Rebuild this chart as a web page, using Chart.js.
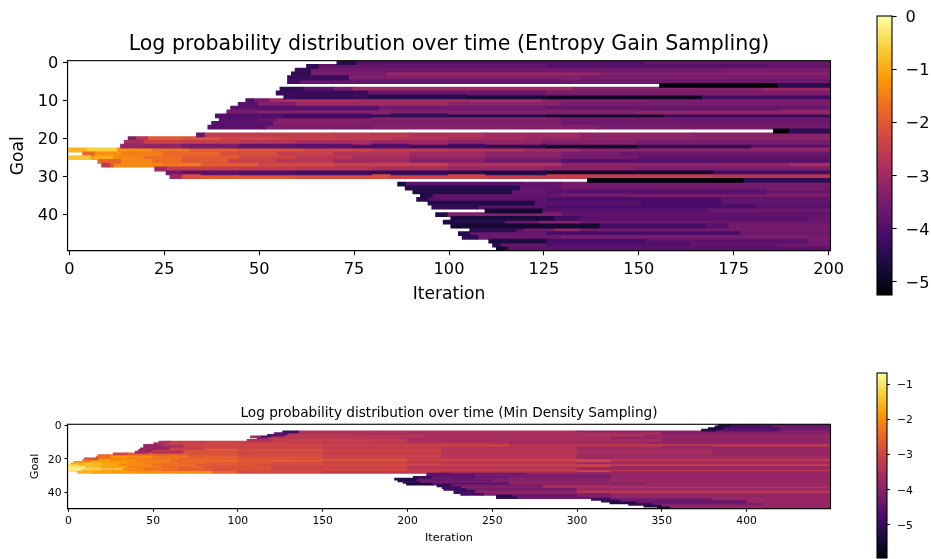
<!DOCTYPE html>
<html>
<head>
<meta charset="utf-8">
<title>Log probability distribution over time</title>
<script src="https://cdn.jsdelivr.net/npm/chart.js@4"></script>
<style>
  html, body { margin: 0; background: #fff; }
  canvas { position: absolute; }
</style>
</head>
<body>
<canvas id="entropy_chart"></canvas>
<canvas id="entropy_bar"></canvas>
<canvas id="density_chart"></canvas>
<canvas id="density_bar"></canvas>
<script>
// goals on the y axis
const goals = [];
for (let i = 0; i < 50; i++) goals.push(i);

// entropy gain chart: each row is cut at these iterations, one log prob per piece
const entropyGoalTicks = [0, 10, 20, 30, 40];
const entropyIterTicks = [0, 25, 50, 75, 100, 125, 150, 175, 200];
const entropyBarTicks = [0, -1, -2, -3, -4, -5];
const entropyRange = [-5.25, 0];
const entropyEdges = [
  [71,76,152,201], [63,66,126,184,201], [60,64,173,201], [59,64,84,140,201], [58,74,135,201],
  [58,61,130,201], [156,187,201], [56,62,70,75,133,183,201], [55,79,126,201], [57,79,105,126,167,201],
  [47,49,53,57,75,125,153,201], [45,50,60,100,130,201], [43,82,126,188,201], [42,50,85,150,201], [39,57,80,100,126,157,201],
  [40,50,55,130,160,201], [38,54,77,130,201], [37,52,80,140,201], [186,190,201],
  [34,36,50,70,90,110,135,165,201],
  [16,18,21,30,40,55,70,85,100,120,135,201],
  [15,20,30,45,60,80,100,125,150,201],
  [14,20,30,45,60,75,90,110,126,150,180,201],
  [0,5,13,22,32,45,62,80,100,120,135,201],
  [4,7,14,25,40,55,70,90,110,130,145,201],
  [0,6,12,20,30,45,60,75,90,110,130,150,201],
  [8,14,22,30,42,55,70,90,110,130,201],
  [9,11,12,25,35,50,70,100,130,190,201],
  [23,26,40,60,80,100,125,150,201],
  [26,30,45,60,80,100,126,170,201],
  [27,30,35,45,60,85,110,170,201],
  [137,178,201], [87,89,120,130,201], [89,119,130,201], [91,117,126,184,201],
  [93,96,130,148,201], [92,95,126,172,201], [95,123,151,172,201], [96,108,126,181,201], [110,125,169,201],
  [97,100,130,201], [101,128,135,195,201], [99,115,124,135,201], [101,140,168,174,201], [106,118,120,128,135,201],
  [103,106,126,177,201], [104,108,130,201], [111,126,152,195,201], [112,114,126,164,188,201], [113,116,201]
];
const entropyLogp = [
  [-4.5,-3.95,-3.7], [-4.4,-3.75,-3.95,-3.8], [-4.3,-3.6,-3.5], [-4.4,-3.5,-3.05,-3.3], [-4.3,-3.4,-3.5],
  [-4.2,-3.75,-3.65], [-5.2,-4.5], [-4.4,-3.9,-3.5,-3.0,-3.3,-3.05], [-4.3,-3.7,-3.45], [-4.3,-4.5,-4.7,-4.95,-4.2],
  [-4.0,-3.5,-3.0,-2.8,-2.9,-3.3,-3.45], [-3.9,-3.4,-3.0,-3.25,-3.5], [-3.9,-3.55,-3.75,-3.7], [-3.5,-3.3,-3.4,-3.2], [-4.0,-4.2,-4.4,-4.6,-4.85,-4.3],
  [-3.9,-3.7,-3.35,-3.6,-3.7], [-3.9,-3.3,-3.45,-3.65], [-3.9,-3.5,-3.35,-3.55], [-5.2,-4.4],
  [-3.7,-2.5,-2.5,-2.6,-2.8,-3.0,-3.2,-3.3],
  [-3.4,-2.7,-2.0,-2.1,-2.3,-2.4,-2.5,-2.7,-2.9,-3.1,-3.2],
  [-2.9,-2.4,-2.5,-2.7,-2.9,-3.05,-3.2,-3.35,-3.5],
  [-3.1,-3.2,-3.5,-3.8,-3.9,-4.05,-4.2,-4.4,-4.8,-4.3,-3.95],
  [-0.9,-0.6,-1.3,-1.6,-1.9,-2.1,-2.3,-2.5,-2.7,-2.95,-3.2],
  [-1.8,-1.3,-1.5,-1.8,-2.15,-2.45,-2.75,-3.0,-3.25,-3.5,-3.7],
  [-0.7,-1.0,-1.4,-1.7,-2.0,-2.35,-2.65,-2.9,-3.15,-3.4,-3.6,-3.8],
  [-1.8,-1.4,-1.7,-2.0,-2.4,-2.7,-3.0,-3.35,-3.65,-3.95],
  [-2.6,-2.1,-1.4,-1.6,-1.95,-2.25,-2.45,-2.8,-3.2,-2.9],
  [-3.0,-2.5,-2.55,-2.7,-2.9,-3.1,-3.3,-3.5],
  [-3.6,-3.85,-4.0,-4.2,-4.35,-4.55,-4.85,-4.2],
  [-3.0,-2.2,-1.95,-2.05,-2.2,-2.35,-2.5,-2.7],
  [-5.2,-4.4], [-4.7,-3.9,-3.75,-3.55], [-4.5,-3.8,-3.55], [-4.6,-3.7,-3.9,-3.7],
  [-4.6,-3.8,-3.55,-3.45], [-4.5,-3.85,-4.1,-3.8], [-4.6,-3.9,-4.1,-3.8], [-4.4,-3.9,-4.1,-3.9], [-4.8,-3.85,-3.65],
  [-4.6,-3.4,-3.8], [-4.7,-4.2,-3.85,-3.7], [-4.6,-3.7,-3.3,-3.7], [-4.8,-4.2,-3.9,-3.55], [-4.5,-4.0,-3.55,-3.15,-3.55],
  [-4.5,-3.7,-4.1,-3.65], [-4.4,-3.65,-3.5], [-4.7,-4.1,-3.85,-3.55], [-4.5,-3.7,-4.0,-3.75,-3.6], [-4.8,-3.85]
];

// min density chart
const densityGoalTicks = [0, 20, 40];
const densityIterTicks = [0, 50, 100, 150, 200, 250, 300, 350, 400];
const densityBarTicks = [-1, -2, -3, -4, -5];
const densityRange = [-5.94, -0.68];
const densityEdges = [
  [384,390,408,450], [382,388,415,450], [378,386,420,450], [374,382,420,450], [127,136,180,300,450],
  [122,130,200,350,450], [118,128,170,340,450], [108,114,120,210,450], [112,118,180,320,450], [106,120,200,350,450],
  [54,60,80,110,150,200,260,340,450],
  [51,58,75,100,130,180,250,340,450],
  [45,55,68,90,150,260,350,450],
  [45,55,68,100,150,220,300,380,450],
  [43,60,80,110,150,220,300,380,450],
  [42,50,70,100,150,220,300,380,450],
  [40,48,68,100,150,220,300,380,450],
  [27,35,50,70,100,150,220,300,380,450],
  [18,25,35,50,70,100,150,220,300,450],
  [17,25,35,50,70,100,150,220,300,450],
  [10,18,30,45,65,90,130,200,300,450],
  [9,14,25,40,60,100,150,200,320,450],
  [4,10,20,35,55,80,120,200,300,450],
  [2,10,20,30,45,65,100,150,220,300,450],
  [0,6,15,30,50,75,110,200,320,450],
  [0,10,20,35,55,80,120,200,300,450],
  [33,45,65,85,120,200,300,450],
  [1,8,20,35,55,80,120,200,320,450],
  [6,15,25,40,85,100,150,220,300,450],
  [212,225,270,320,450],
  [212,240,320,450], [204,215,260,320,450], [193,206,240,320,450], [195,205,250,320,450], [198,208,260,450],
  [200,215,260,340,450], [218,226,280,450], [221,232,280,320,450], [222,235,300,450], [228,240,300,450],
  [228,240,300,450], [232,245,320,450], [253,262,300,450], [253,265,320,450], [309,320,380,450],
  [315,325,400,450], [320,335,400,450], [331,345,410,450], [340,350,450], [348,355,450]
];
const densityLogp = [
  [-5.4,-4.9,-4.4], [-5.3,-4.8,-4.35], [-5.4,-4.7,-4.3], [-5.3,-4.6,-4.2], [-5.0,-3.4,-3.5,-3.95],
  [-4.6,-3.5,-3.6,-4.0], [-4.6,-3.3,-3.5,-3.95], [-3.6,-5.0,-3.3,-3.75], [-4.0,-3.3,-3.5,-3.85], [-3.5,-3.2,-3.6,-3.9],
  [-3.5,-3.15,-3.1,-3.15,-3.25,-3.4,-3.65,-3.9],
  [-3.5,-3.05,-3.0,-3.1,-3.2,-3.4,-3.65,-3.85],
  [-3.7,-3.3,-3.0,-3.0,-3.1,-3.3,-3.35],
  [-3.9,-3.6,-3.0,-3.05,-3.2,-3.45,-3.7,-3.85],
  [-3.8,-3.2,-3.0,-3.05,-3.2,-3.45,-3.7,-3.85],
  [-3.8,-3.0,-2.65,-2.8,-3.0,-3.3,-3.6,-3.8],
  [-3.7,-3.5,-2.85,-3.0,-3.15,-3.35,-3.6,-3.8],
  [-3.0,-2.6,-2.6,-2.8,-2.95,-3.15,-3.4,-3.65,-3.85],
  [-2.5,-2.1,-2.2,-2.4,-2.65,-2.85,-3.1,-3.35,-3.7],
  [-2.4,-1.9,-2.05,-2.3,-2.6,-2.85,-3.1,-3.35,-3.7],
  [-2.9,-2.1,-2.15,-2.35,-2.6,-2.8,-3.0,-3.3,-3.65],
  [-2.3,-1.8,-1.95,-2.2,-2.45,-2.65,-2.75,-3.0,-3.2],
  [-2.0,-1.7,-1.85,-2.15,-2.45,-2.75,-3.0,-3.3,-3.65],
  [-1.6,-1.55,-1.75,-2.0,-2.3,-2.6,-2.85,-3.1,-3.35,-3.65],
  [-1.2,-1.45,-1.7,-2.05,-2.4,-2.7,-2.9,-3.05,-3.2],
  [-1.0,-1.45,-1.75,-2.15,-2.5,-2.8,-3.05,-3.35,-3.7],
  [-2.05,-2.35,-2.65,-2.85,-3.05,-3.35,-3.7],
  [-1.0,-1.55,-1.8,-2.15,-2.5,-2.75,-2.9,-3.0,-3.15],
  [-1.6,-1.75,-1.85,-2.0,-2.5,-2.95,-3.25,-3.45,-3.7],
  [-4.6,-4.3,-3.95,-3.85],
  [-4.5,-4.2,-3.85], [-4.9,-4.3,-4.1,-3.8], [-5.3,-4.4,-4.0,-3.8], [-5.3,-4.4,-4.05,-3.75], [-5.0,-4.2,-3.8],
  [-5.4,-4.6,-4.0,-3.75], [-5.2,-4.2,-3.7], [-4.9,-4.0,-3.5,-3.2], [-4.9,-4.2,-3.75], [-5.0,-4.1,-3.6],
  [-4.8,-3.9,-3.3], [-4.8,-4.1,-3.7], [-5.3,-4.5,-3.9], [-5.1,-4.3,-3.8], [-5.0,-4.2,-3.75],
  [-5.1,-4.3,-3.8], [-5.3,-4.4,-3.8], [-5.1,-4.2,-3.7], [-5.2,-3.9], [-5.4,-3.8]
];

const inferno = ['#000004','#1b0c41','#4a0c6b','#781c6d','#a52c60','#cf4446','#ed6925','#fb9b06','#f7d13d','#fcffa4'];

function hex(c) {
    return [1, 3, 5].map(i => parseInt(c.substr(i, 2), 16));
}

function colorFor(v, range) {
    let t = (v - range[0]) / (range[1] - range[0]);
    t = Math.min(1, Math.max(0, t)) * (inferno.length - 1);
    const i = Math.min(inferno.length - 2, Math.floor(t));
    const a = hex(inferno[i]), b = hex(inferno[i + 1]), f = t - i;
    return 'rgb(' + a.map((x, k) => Math.round(x + (b[k] - x) * f)).join(',') + ')';
}

const font = 'DejaVu Sans';
Chart.defaults.font.family = font;
Chart.defaults.color = '#000';

// black box round the plot area
const framePlugin = {
    id: 'frame',
    afterDraw(chart) {
        const a = chart.chartArea, c = chart.ctx;
        c.save();
        c.strokeStyle = '#000';
        c.lineWidth = 1.1;
        c.strokeRect(a.left, a.top, a.right - a.left, a.bottom - a.top);
        c.restore();
    }
};

function place(id, box) {
    const el = document.getElementById(id);
    el.style.left = box.x + 'px';
    el.style.top = box.y + 'px';
    el.style.width = box.w + 'px';
    el.style.height = box.h + 'px';
    el.width = box.w;
    el.height = box.h;
    return el;
}

function heatmap(id, o) {
    const el = place(id, o.box);
    const pieces = Math.max(...o.logp.map(r => r.length));
    const datasets = [];
    for (let k = 0; k < pieces; k++) {
        datasets.push({
            data: goals.map(g => o.logp[g][k] === undefined ? null : [o.edges[g][k] - 0.5, o.edges[g][k + 1] - 0.5]),
            backgroundColor: goals.map(g => o.logp[g][k] === undefined ? 'rgba(0,0,0,0)' : colorFor(o.logp[g][k], o.range)),
            grouped: false,
            barPercentage: 1,
            categoryPercentage: 1,
            inflateAmount: 0.5,
            borderWidth: 0
        });
    }
    return new Chart(el, {
        type: 'bar',
        data: { labels: goals, datasets: datasets },
        plugins: [framePlugin],
        options: {
            indexAxis: 'y',
            responsive: false,
            animation: false,
            devicePixelRatio: 1,
            layout: { padding: { left: 0, top: 0, right: o.box.w - o.plot.right, bottom: 0 } },
            plugins: {
                legend: { display: false },
                tooltip: { enabled: false },
                title: {
                    display: true,
                    fullSize: false,
                    text: o.title,
                    color: '#000',
                    font: { family: font, size: o.titleSize, weight: 'normal', lineHeight: 1.2 },
                    padding: o.titlePad
                }
            },
            scales: {
                x: {
                    type: 'linear',
                    min: -0.5,
                    max: o.xMax - 0.5,
                    afterBuildTicks: s => { s.ticks = o.xTicks.map(v => ({ value: v })); },
                    afterFit: s => { s.height = o.box.h - (o.plot.bottom - o.box.y); },
                    grid: { drawOnChartArea: false, tickColor: '#000', tickLength: o.tickLen, tickWidth: 1.1 },
                    border: { color: '#000', width: 1.1 },
                    ticks: { autoSkip: false, maxRotation: 0, padding: o.tickPad, font: { size: o.tickSize }, callback: v => String(v) },
                    title: { display: true, text: 'Iteration', color: '#000', font: { size: o.labelSize, lineHeight: 1.2 }, padding: 0 }
                },
                y: {
                    afterBuildTicks: s => { s.ticks = s.ticks.filter(t => o.yTicks.includes(t.value)); },
                    afterFit: s => { s.width = o.plot.left - o.box.x; },
                    grid: { drawOnChartArea: false, offset: false, tickColor: '#000', tickLength: o.tickLen, tickWidth: 1.1 },
                    border: { color: '#000', width: 1.1 },
                    ticks: { autoSkip: false, padding: o.tickPad, labelOffset: o.labelShift, font: { size: o.tickSize } },
                    title: { display: true, text: 'Goal', color: '#000', font: { size: o.labelSize, lineHeight: 1.2 }, padding: { top: o.goalPad, bottom: 0 } }
                }
            }
        }
    });
}

function colorbar(id, o) {
    const el = place(id, o.box);
    return new Chart(el, {
        type: 'bar',
        data: {
            labels: ['logp'],
            datasets: [{
                data: [o.range],
                barPercentage: 1,
                categoryPercentage: 1,
                borderWidth: 0,
                backgroundColor: ctx => {
                    const a = ctx.chart.chartArea;
                    if (!a) return '#000';
                    const g = ctx.chart.ctx.createLinearGradient(0, a.bottom, 0, a.top);
                    inferno.forEach((c, i) => g.addColorStop(i / (inferno.length - 1), c));
                    return g;
                }
            }]
        },
        plugins: [framePlugin],
        options: {
            responsive: false,
            animation: false,
            devicePixelRatio: 1,
            layout: { padding: { left: o.plot.left - o.box.x, top: o.plot.top - o.box.y, bottom: o.box.y + o.box.h - o.plot.bottom, right: 0 } },
            plugins: { legend: { display: false }, tooltip: { enabled: false } },
            scales: {
                x: { display: false },
                y: {
                    position: 'right',
                    min: o.range[0],
                    max: o.range[1],
                    afterBuildTicks: s => { s.ticks = o.ticks.map(v => ({ value: v })); },
                    afterFit: s => {
                        s.width = o.box.x + o.box.w - o.plot.right;
                        s.paddingTop = 0;
                        s.paddingBottom = 0;
                    },
                    grid: { drawOnChartArea: false, tickColor: '#000', tickLength: o.tickLen, tickWidth: 1.1 },
                    border: { display: false },
                    ticks: {
                        autoSkip: false,
                        padding: o.tickPad,
                        labelOffset: o.labelShift,
                        font: { size: o.tickSize },
                        callback: v => v === 0 ? '0' : '\u2212' + Math.abs(v)
                    }
                }
            }
        }
    });
}

heatmap('entropy_chart', {
    box: { x: 0, y: 0, w: 870, h: 305 },
    plot: { left: 67.5, right: 830.5, top: 60.7, bottom: 250.7 },
    edges: entropyEdges, logp: entropyLogp, range: entropyRange,
    xMax: 201, xTicks: entropyIterTicks, yTicks: entropyGoalTicks,
    title: 'Log probability distribution over time (Entropy Gain Sampling)',
    titleSize: 20.56, titlePad: { top: 32.65, bottom: 3.35 },
    tickSize: 16.2, labelSize: 17.1, tickLen: 4.6, tickPad: 4.6, goalPad: 8.5, labelShift: 1.5
});

heatmap('density_chart', {
    box: { x: 0, y: 395, w: 870, h: 150 },
    plot: { left: 67.5, right: 830.5, top: 424.3, bottom: 508.7 },
    edges: densityEdges, logp: densityLogp, range: densityRange,
    xMax: 450, xTicks: densityIterTicks, yTicks: densityGoalTicks,
    title: 'Log probability distribution over time (Min Density Sampling)',
    titleSize: 13.65, titlePad: { top: 10.1, bottom: 2.8 },
    tickSize: 10.8, labelSize: 11.3, tickLen: 3, tickPad: 3, goalPad: 28, labelShift: 1
});

colorbar('entropy_bar', {
    box: { x: 872, y: 0, w: 59, h: 306 },
    plot: { left: 877, right: 892, top: 16, bottom: 295 },
    range: entropyRange, ticks: entropyBarTicks,
    tickSize: 16.2, tickLen: 4.6, tickPad: 9, labelShift: 2
});

colorbar('density_bar', {
    box: { x: 872, y: 360, w: 59, h: 199 },
    plot: { left: 877, right: 887, top: 373, bottom: 558 },
    range: densityRange, ticks: densityBarTicks,
    tickSize: 10.8, tickLen: 3, tickPad: 7, labelShift: 1
});
</script>
</body>
</html>
